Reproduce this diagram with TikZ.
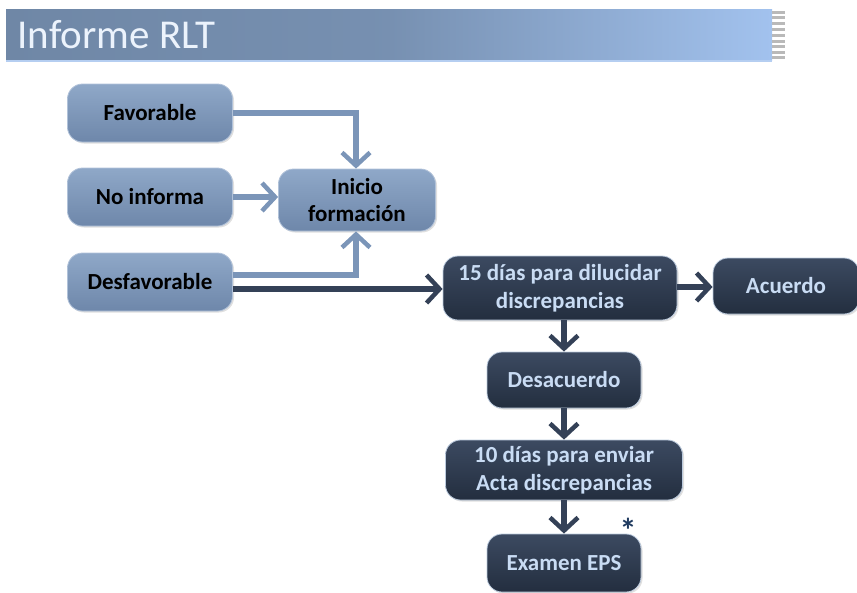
\documentclass[tikz,border=0pt]{standalone}
\usepackage{fontspec}
\setmainfont{Carlito}
\usetikzlibrary{arrows.meta,shadows}
\definecolor{lighttop}{HTML}{8FA8C8}
\definecolor{lightbot}{HTML}{6E87AA}
\definecolor{darktop}{HTML}{3C4A61}
\definecolor{darkbot}{HTML}{232E3F}
\definecolor{darktext}{HTML}{C9DCF4}
\definecolor{lightarrow}{HTML}{7B95B8}
\definecolor{darkarrow}{HTML}{344157}
\definecolor{hdrleft}{HTML}{6F87A6}
\definecolor{hdrright}{HTML}{A2C2EE}
\definecolor{asteriskc}{HTML}{1F3A5F}
\tikzset{
  boxbase/.style={rounded corners=15pt, line width=0.8pt,
    font=\bfseries\fontsize{23}{27.5}\selectfont, align=center, inner sep=0pt,
    drop shadow={shadow xshift=1.5pt, shadow yshift=-1.5pt, opacity=0.25}},
  lightnode/.style={boxbase, top color=lighttop, bottom color=lightbot,
    draw=lighttop!70!white, text=black},
  darknode/.style={boxbase, top color=darktop, bottom color=darkbot,
    draw=lighttop!60!white, text=darktext},
  larrow/.style={draw=lightarrow, line width=5.5pt,
    -{Straight Barb[length=13pt,width=28pt,line width=4.5pt]}},
  darrow/.style={draw=darkarrow, line width=5.5pt,
    -{Straight Barb[length=13pt,width=28pt,line width=4.5pt]}},
}
\begin{document}
\begin{tikzpicture}[x=1pt,y=-1pt]
\useasboundingbox (0,0) rectangle (857,592);
% header
\shade[left color=hdrleft, right color=hdrright, middle color=hdrleft!85!hdrright] (6,9) rectangle (772,60);
\fill[hdrright!80!white] (6,60) rectangle (772,62);
\foreach \yy in {11,16,22,28,34,40,45,51,56}
  \fill[gray!55] (772,\yy) rectangle (785,\yy+2.6);
\node[anchor=west, text=white!80!hdrright, font=\fontsize{41}{43}\selectfont] (title) at (14,35) {Informe RLT};
% nodes
\node[lightnode, minimum width=165pt, minimum height=58pt] (fav) at (150,113) {Favorable};
\node[lightnode, minimum width=165pt, minimum height=58pt] (noinf) at (150,197) {No informa};
\node[lightnode, minimum width=165pt, minimum height=58pt] (desf) at (150,282) {Desfavorable};
\node[lightnode, minimum width=157pt, minimum height=62pt] (inicio) at (357,200) {Inicio\\formación};
\node[darknode, minimum width=234pt, minimum height=64pt] (quince) at (560,288) {15 días para dilucidar\\discrepancias};
\node[darknode, minimum width=146pt, minimum height=56pt] (acuerdo) at (786,286) {Acuerdo};
\node[darknode, minimum width=154pt, minimum height=56pt] (desac) at (564,380) {Desacuerdo};
\node[darknode, minimum width=237pt, minimum height=60pt] (diez) at (564,470) {10 días para enviar\\Acta discrepancias};
\node[darknode, minimum width=154pt, minimum height=58pt] (examen) at (564,563) {Examen EPS};
\node[text=asteriskc, font=\bfseries\fontsize{34}{34}\selectfont] (ast) at (628,530) {*};
% connectors
\draw[larrow] (fav.east) -- (356,113) -- (inicio.north -| 356,0);
\draw[larrow] (noinf.east) -- (inicio.west |- noinf.east);
\draw[larrow] (desf.east |- 0,275) -- (356,275) -- (inicio.south -| 356,0);
\draw[darrow] (desf.east |- 0,289) -- (quince.west |- 0,289);
\draw[darrow] (quince.east |- 0,287) -- (acuerdo.west |- 0,287);
\draw[darrow] (quince.south -| 564,0) -- (desac.north);
\draw[darrow] (desac.south) -- (diez.north);
\draw[darrow] (diez.south) -- (examen.north);
\end{tikzpicture}
\end{document}
